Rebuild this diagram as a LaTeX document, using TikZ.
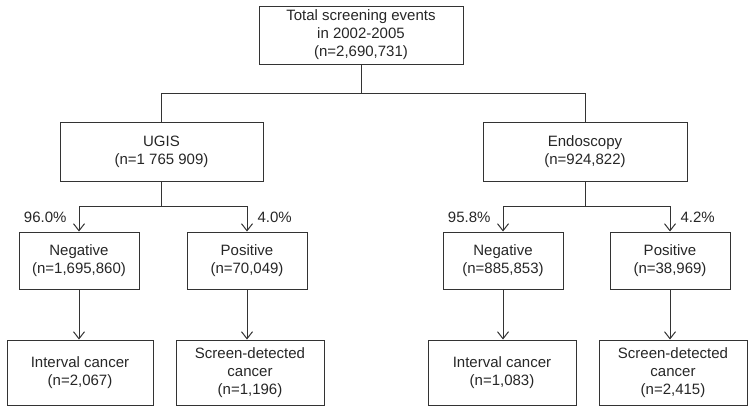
\documentclass[tikz,border=0pt]{standalone}
\usepackage{fontspec}
\setmainfont{Liberation Sans}
\usetikzlibrary{arrows.meta,positioning}

\begin{document}
\begin{tikzpicture}[x=1pt,y=1pt,
    box/.style={draw=black!80, line width=1pt, align=center, inner sep=0pt,
        font=\fontsize{15}{18}\selectfont, text=black!85},
    link/.style={draw=black!80, line width=1pt},
    arr/.style={link, -{Straight Barb[length=7pt,width=11pt]}},
    pct/.style={font=\fontsize{15}{18}\selectfont, text=black!85, inner sep=0pt}]
    \useasboundingbox (0,0) rectangle (755,-413);

    % draw top box
    \node[box, minimum width=204pt, minimum height=58pt] (total) at (361,-35)
        {Total screening events\\in 2002-2005\\(n=2,690,731)};

    % draw test boxes
    \node[box, minimum width=203pt, minimum height=59pt] (ugis) at (161.5,-151.5)
        {UGIS\\(n=1 765 909)};
    \node[box, minimum width=204pt, minimum height=59pt] (endo) at (585,-151.5)
        {Endoscopy\\(n=924,822)};

    % draw result boxes
    \node[box, minimum width=120pt, minimum height=57pt] (negugis) at (79,-260.5)
        {Negative\\(n=1,695,860)};
    \node[box, minimum width=120pt, minimum height=57pt] (posugis) at (247,-260.5)
        {Positive\\(n=70,049)};
    \node[box, minimum width=120pt, minimum height=57pt] (negendo) at (503,-260.5)
        {Negative\\(n=885,853)};
    \node[box, minimum width=120pt, minimum height=57pt] (posendo) at (670,-260.5)
        {Positive\\(n=38,969)};

    % draw cancer boxes
    \node[box, minimum width=146pt, minimum height=65pt] (intugis) at (80,-372.5)
        {Interval cancer\\(n=2,067)};
    \node[box, minimum width=148pt, minimum height=65pt] (scrugis) at (250,-372.5)
        {Screen-detected\\cancer\\(n=1,196)};
    \node[box, minimum width=148pt, minimum height=65pt] (intendo) at (502,-372.5)
        {Interval cancer\\(n=1,083)};
    \node[box, minimum width=148pt, minimum height=65pt] (screndo) at (673,-372.5)
        {Screen-detected\\cancer\\(n=2,415)};

    % split points
    \coordinate (topsplit) at (total.south |- 0,-93);
    \coordinate (ugissplit) at (ugis.south |- 0,-206);
    \coordinate (endosplit) at (endo.south |- 0,-206);

    % draw connectors
    \draw[link] (total) -- (topsplit);
    \draw[link] (topsplit) -| (ugis);
    \draw[link] (topsplit) -| (endo);

    \draw[link] (ugis) -- (ugissplit);
    \draw[arr] (ugissplit) -| (negugis) node[pct, pos=0.72, left=12pt] {96.0\%};
    \draw[arr] (ugissplit) -| (posugis) node[pct, pos=0.72, right=10pt] {4.0\%};
    \draw[link] (endo) -- (endosplit);
    \draw[arr] (endosplit) -| (negendo) node[pct, pos=0.72, left=12pt] {95.8\%};
    \draw[arr] (endosplit) -| (posendo) node[pct, pos=0.72, right=10pt] {4.2\%};

    \draw[arr] (negugis) -- (negugis |- intugis.north);
    \draw[arr] (posugis) -- (posugis |- scrugis.north);
    \draw[arr] (negendo) -- (negendo |- intendo.north);
    \draw[arr] (posendo) -- (posendo |- screndo.north);
\end{tikzpicture}
\end{document}
